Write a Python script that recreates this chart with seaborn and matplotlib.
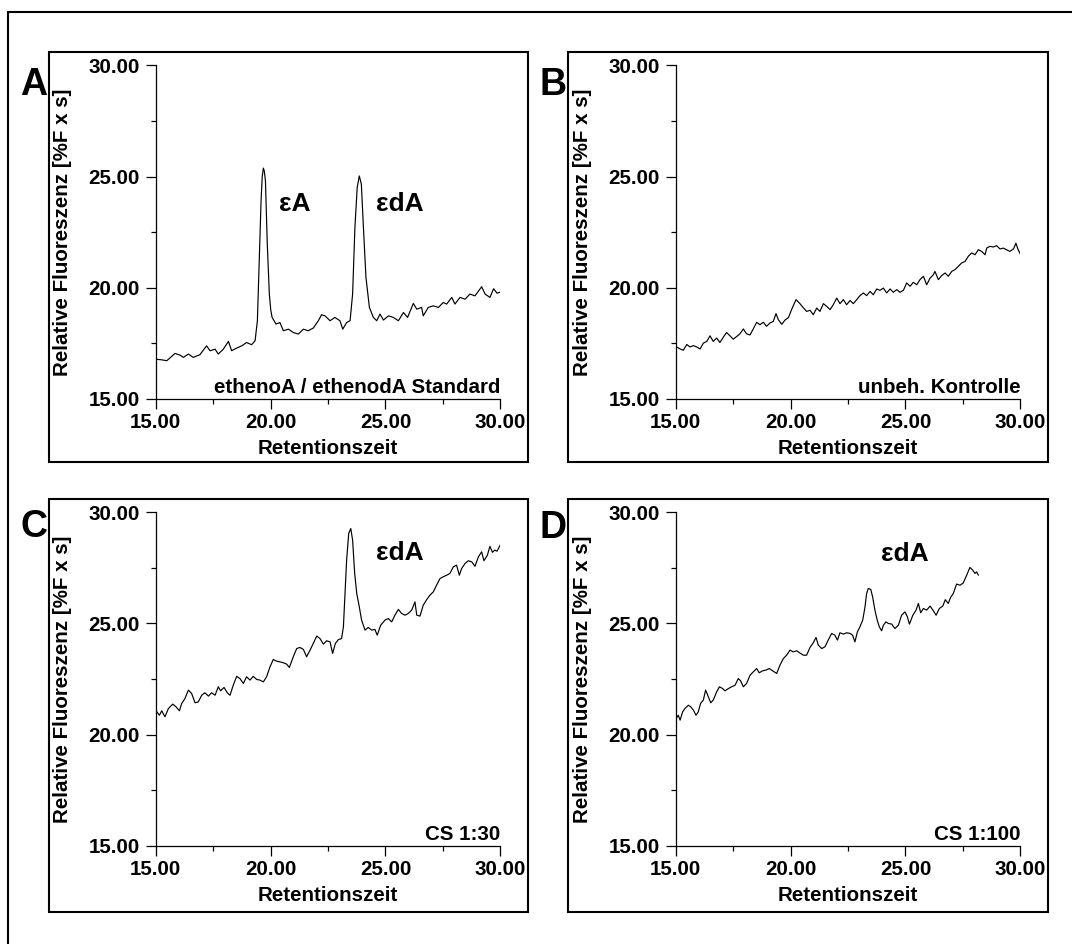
import numpy as np
import pandas as pd
import seaborn as sns
import matplotlib
matplotlib.use("Agg")
import matplotlib.pyplot as plt
from matplotlib.patches import Rectangle
from matplotlib.lines import Line2D
from matplotlib.ticker import FixedLocator, FormatStrFormatter

# ---------------- data (retention time [min], relative fluorescence) ----------------
a_time = [15.00, 15.27, 15.49, 15.85, 16.07, 16.21, 16.43, 16.64, 16.93, 17.22, 17.37, 17.59,
          17.73, 17.95, 18.17, 18.31, 18.53, 18.75, 18.96, 19.18, 19.33, 19.43, 19.51, 19.59,
          19.64, 19.69, 19.73, 19.78, 19.86, 19.95, 20.01, 20.07, 20.24, 20.41, 20.56, 20.78,
          20.99, 21.21, 21.43, 21.64, 21.86, 22.08, 22.22, 22.37, 22.59, 22.80, 23.02, 23.14,
          23.31, 23.46, 23.57, 23.67, 23.77, 23.86, 23.95, 24.04, 24.15, 24.30, 24.47, 24.62,
          24.76, 24.91, 25.13, 25.34, 25.56, 25.78, 25.96, 26.21, 26.36, 26.57, 26.64, 26.86,
          27.08, 27.30, 27.51, 27.66, 27.88, 28.02, 28.24, 28.46, 28.67, 28.89, 29.18, 29.33,
          29.54, 29.70, 29.85, 30.00]
a_signal = [16.78, 16.75, 16.71, 17.04, 16.96, 16.86, 17.01, 16.86, 16.98, 17.38, 17.16, 17.23,
            17.01, 17.23, 17.58, 17.16, 17.28, 17.38, 17.53, 17.43, 17.61, 18.51, 21.21, 23.91,
            25.00, 25.38, 25.25, 24.81, 21.96, 19.71, 19.00, 18.66, 18.36, 18.43, 18.06, 18.13,
            17.98, 17.91, 18.13, 18.06, 18.18, 18.51, 18.78, 18.73, 18.51, 18.66, 18.51, 18.13,
            18.43, 18.51, 19.71, 22.71, 24.51, 25.03, 24.66, 22.71, 20.46, 19.11, 18.66, 18.51,
            18.81, 18.54, 18.73, 18.66, 18.51, 18.88, 18.66, 19.29, 19.03, 19.11, 18.73, 19.11,
            19.18, 19.11, 19.33, 19.26, 19.56, 19.26, 19.56, 19.48, 19.71, 19.63, 20.04, 19.71,
            19.56, 19.95, 19.75, 19.80]

b_time = [15.00, 15.20, 15.34, 15.49, 15.63, 15.78, 15.92, 16.07, 16.21, 16.36, 16.50, 16.64,
          16.79, 16.93, 17.08, 17.22, 17.37, 17.51, 17.66, 17.80, 17.95, 18.09, 18.24, 18.38,
          18.53, 18.67, 18.82, 18.96, 19.11, 19.25, 19.37, 19.47, 19.62, 19.76, 19.91, 20.05,
          20.24, 20.41, 20.56, 20.70, 20.85, 20.99, 21.14, 21.28, 21.43, 21.57, 21.72, 21.86,
          22.01, 22.15, 22.30, 22.44, 22.59, 22.73, 22.88, 23.02, 23.17, 23.31, 23.46, 23.60,
          23.75, 23.89, 24.04, 24.18, 24.33, 24.47, 24.62, 24.76, 24.91, 25.05, 25.20, 25.34,
          25.49, 25.63, 25.78, 25.92, 26.07, 26.21, 26.28, 26.43, 26.57, 26.72, 26.86, 27.01,
          27.15, 27.30, 27.44, 27.59, 27.73, 27.88, 28.02, 28.17, 28.31, 28.46, 28.53, 28.67,
          28.82, 28.96, 29.11, 29.25, 29.40, 29.54, 29.70, 29.80, 29.90, 30.00]
b_signal = [17.36, 17.24, 17.18, 17.44, 17.33, 17.39, 17.33, 17.24, 17.50, 17.58, 17.83, 17.58,
            17.73, 17.53, 17.77, 17.98, 17.83, 17.68, 17.80, 17.92, 18.14, 17.92, 17.87, 18.14,
            18.44, 18.33, 18.44, 18.26, 18.41, 18.48, 18.83, 18.56, 18.35, 18.54, 18.65, 19.02,
            19.46, 19.28, 19.09, 18.93, 18.98, 18.78, 19.08, 18.93, 19.28, 19.16, 19.01, 19.23,
            19.53, 19.28, 19.46, 19.23, 19.42, 19.28, 19.46, 19.64, 19.76, 19.64, 19.83, 19.68,
            19.94, 19.88, 19.98, 19.76, 19.94, 19.79, 19.91, 19.79, 19.88, 20.21, 20.06, 20.24,
            20.13, 20.36, 20.51, 20.13, 20.43, 20.58, 20.73, 20.36, 20.54, 20.66, 20.51, 20.73,
            20.81, 20.96, 21.11, 21.18, 21.41, 21.56, 21.48, 21.71, 21.63, 21.48, 21.78, 21.86,
            21.83, 21.89, 21.74, 21.78, 21.70, 21.63, 21.75, 22.00, 21.70, 21.50]

c_time = [15.00, 15.17, 15.27, 15.41, 15.56, 15.75, 15.89, 16.04, 16.14, 16.28, 16.43, 16.57,
          16.72, 16.86, 17.01, 17.15, 17.30, 17.44, 17.59, 17.73, 17.83, 17.98, 18.12, 18.24,
          18.38, 18.53, 18.67, 18.82, 18.96, 19.11, 19.25, 19.40, 19.54, 19.69, 19.83, 19.98,
          20.12, 20.27, 20.41, 20.56, 20.70, 20.82, 20.99, 21.14, 21.28, 21.43, 21.57, 21.72,
          21.86, 22.01, 22.15, 22.30, 22.44, 22.59, 22.70, 22.82, 22.95, 23.09, 23.17, 23.24,
          23.31, 23.40, 23.49, 23.57, 23.66, 23.75, 23.86, 23.96, 24.11, 24.25, 24.40, 24.54,
          24.64, 24.79, 24.98, 25.12, 25.27, 25.41, 25.56, 25.70, 25.85, 25.99, 26.14, 26.28,
          26.36, 26.50, 26.64, 26.79, 26.93, 27.08, 27.22, 27.37, 27.51, 27.66, 27.80, 27.95,
          28.09, 28.21, 28.31, 28.46, 28.60, 28.75, 28.89, 29.04, 29.18, 29.28, 29.43, 29.54,
          29.65, 29.75, 29.85, 30.00]
c_signal = [21.10, 20.87, 21.07, 20.80, 21.17, 21.37, 21.25, 21.07, 21.40, 21.62, 22.00, 21.85,
            21.43, 21.47, 21.77, 21.88, 21.73, 21.88, 21.77, 22.15, 21.97, 22.12, 21.88, 21.77,
            22.22, 22.62, 22.52, 22.30, 22.60, 22.45, 22.62, 22.48, 22.45, 22.37, 22.60, 23.05,
            23.38, 23.30, 23.27, 23.23, 23.17, 23.02, 23.50, 23.87, 23.92, 23.83, 23.50, 23.80,
            24.10, 24.43, 24.32, 24.07, 24.22, 24.17, 23.65, 24.10, 24.27, 24.32, 24.85, 26.35,
            27.85, 29.05, 29.27, 28.75, 27.25, 26.35, 25.75, 25.15, 24.70, 24.82, 24.70, 24.73,
            24.47, 24.92, 25.15, 25.22, 25.07, 25.37, 25.63, 25.45, 25.37, 25.45, 25.60, 25.97,
            25.37, 25.33, 25.82, 26.07, 26.27, 26.42, 26.72, 27.02, 27.10, 27.17, 27.25, 27.55,
            27.62, 27.17, 27.47, 27.70, 27.82, 27.77, 27.57, 28.00, 28.22, 27.82, 28.07, 28.47,
            28.20, 28.30, 28.25, 28.55]

d_time = [15.00, 15.12, 15.20, 15.31, 15.41, 15.56, 15.66, 15.78, 15.89, 15.99, 16.09, 16.21,
          16.31, 16.43, 16.53, 16.64, 16.79, 16.91, 17.05, 17.15, 17.30, 17.44, 17.59, 17.73,
          17.83, 17.95, 18.09, 18.24, 18.38, 18.53, 18.64, 18.79, 18.93, 19.08, 19.22, 19.40,
          19.54, 19.69, 19.83, 19.98, 20.12, 20.27, 20.41, 20.56, 20.70, 20.85, 20.99, 21.11,
          21.21, 21.36, 21.50, 21.64, 21.79, 21.93, 22.04, 22.15, 22.30, 22.44, 22.59, 22.70,
          22.80, 22.91, 23.02, 23.14, 23.24, 23.31, 23.38, 23.49, 23.57, 23.67, 23.77, 23.86,
          23.96, 24.04, 24.15, 24.25, 24.40, 24.54, 24.69, 24.83, 24.98, 25.08, 25.17, 25.32,
          25.46, 25.56, 25.66, 25.78, 25.92, 26.07, 26.21, 26.33, 26.47, 26.62, 26.73, 26.86,
          26.96, 27.08, 27.22, 27.37, 27.51, 27.66, 27.80, 27.92, 28.02, 28.09, 28.17]
d_signal = [20.68, 20.87, 20.65, 21.02, 21.17, 21.32, 21.25, 21.10, 20.87, 21.02, 21.40, 21.55,
            22.00, 21.70, 21.43, 21.55, 21.92, 22.15, 22.07, 21.97, 22.07, 22.15, 22.22, 22.52,
            22.42, 22.15, 22.30, 22.67, 22.82, 22.97, 22.78, 22.87, 22.90, 22.97, 22.87, 22.75,
            23.12, 23.42, 23.57, 23.80, 23.72, 23.77, 23.67, 23.57, 23.57, 23.92, 24.13, 24.37,
            24.02, 23.87, 23.95, 24.25, 24.55, 24.47, 24.25, 24.58, 24.52, 24.58, 24.55, 24.47,
            24.17, 24.62, 24.85, 25.15, 25.75, 26.35, 26.57, 26.53, 26.20, 25.60, 25.15, 24.85,
            24.67, 24.92, 25.07, 25.00, 24.97, 24.77, 24.92, 25.37, 25.52, 25.30, 24.97, 25.37,
            25.60, 25.90, 25.48, 25.67, 25.60, 25.78, 25.57, 25.37, 25.67, 25.78, 26.07, 25.90,
            26.17, 26.35, 26.77, 26.72, 26.82, 27.17, 27.52, 27.40, 27.25, 27.32, 27.17]

panel_letters = ["A", "B", "C", "D"]
panel_notes = ["ethenoA / ethenodA Standard", "unbeh. Kontrolle", "CS 1:30", "CS 1:100"]
peak_labels = [[("εA", 20.38, 23.77), ("εdA", 24.59, 23.77)],
               [],
               [("εdA", 24.59, 28.18)],
               [("εdA", 23.93, 28.12)]]
axis_ticks = [15, 20, 25, 30]
minor_ticks = [17.5, 22.5, 27.5]
x_label = "Retentionszeit"
y_label = "Relative Fluoreszenz [%F x s]"

series = [(a_time, a_signal), (b_time, b_signal), (c_time, c_signal), (d_time, d_signal)]

# ---------------- style ----------------
sns.set_theme(style="white")
plt.rcParams["font.family"] = ["Liberation Sans", "DejaVu Sans"]
plt.rcParams["font.weight"] = "bold"
plt.rcParams["axes.labelweight"] = "bold"
plt.rcParams["text.color"] = "black"
plt.rcParams["axes.labelcolor"] = "black"
plt.rcParams["xtick.color"] = "black"
plt.rcParams["ytick.color"] = "black"

W, H = 1072, 944
fig = plt.figure(figsize=(W / 100, H / 100), dpi=100)
fig.patch.set_facecolor("white")

# axes rectangles in pixels: (left, top, right, bottom)
ax_px = [(155.5, 65.5, 500.5, 398.7), (675.5, 65.5, 1020.5, 398.7),
         (155.5, 512.3, 500.5, 845.7), (675.5, 512.3, 1020.5, 845.7)]
box_px = [(48.5, 52.5, 527.7, 462.0), (567.5, 52.5, 1047.5, 462.0),
          (48.5, 498.5, 527.7, 911.5), (567.5, 498.5, 1047.5, 911.5)]
letter_px = [(20.0, 95.0), (540.0, 95.0), (20.0, 537.0), (540.0, 538.0)]

FS = 14.8

# outer frame (only top and left edges visible)
fig.add_artist(Line2D([7.5 / W, 7.5 / W], [0, 1 - 11.7 / H], transform=fig.transFigure,
                      color="black", lw=1.5))
fig.add_artist(Line2D([7.5 / W, 1.0], [1 - 11.7 / H, 1 - 11.7 / H], transform=fig.transFigure,
                      color="black", lw=1.5))

for i, ((t, s), (l, tp, r, b)) in enumerate(zip(series, ax_px)):
    ax = fig.add_axes([l / W, 1 - b / H, (r - l) / W, (b - tp) / H])
    ax.set_facecolor("none")
    df = pd.DataFrame({"time": t, "signal": s})
    sns.lineplot(data=df, x="time", y="signal", ax=ax, color="black", linewidth=0.85,
                 estimator=None, sort=False)
    ax.set_xlim(15, 30)
    ax.set_ylim(15, 30)
    for sp in ["top", "right"]:
        ax.spines[sp].set_visible(False)
    for sp in ["left", "bottom"]:
        ax.spines[sp].set_linewidth(0.9)
        ax.spines[sp].set_color("black")
    ax.xaxis.set_major_locator(FixedLocator(axis_ticks))
    ax.yaxis.set_major_locator(FixedLocator(axis_ticks))
    ax.xaxis.set_minor_locator(FixedLocator(minor_ticks))
    ax.yaxis.set_minor_locator(FixedLocator(minor_ticks))
    ax.xaxis.set_major_formatter(FormatStrFormatter("%.2f"))
    ax.yaxis.set_major_formatter(FormatStrFormatter("%.2f"))
    ax.tick_params(axis="both", which="major", direction="out", length=7, width=0.9,
                   labelsize=FS, color="black", labelcolor="black")
    ax.tick_params(axis="both", which="minor", direction="out", length=3.5, width=0.9,
                   color="black")
    ax.tick_params(axis="x", which="major", pad=3.5)
    ax.tick_params(axis="y", which="major", pad=4.5)
    ax.tick_params(bottom=True, left=True, which="both")
    for lab in ax.get_xticklabels() + ax.get_yticklabels():
        lab.set_fontweight("bold")
    ax.set_xlabel(x_label, fontsize=FS, fontweight="bold", va="baseline", color="black")
    ax.xaxis.set_label_coords(0.5, -0.166)
    ax.set_ylabel(y_label, fontsize=FS, fontweight="bold", va="center", color="black")
    ax.yaxis.set_label_coords(-0.271, 0.5)
    ax.text(30, 15.24, panel_notes[i], ha="right", va="baseline", fontsize=FS,
            fontweight="bold", color="black")
    for txt, xx, yy in peak_labels[i]:
        ax.text(xx, yy, txt, ha="left", va="center", fontsize=19, fontweight="bold",
                color="black")

    x0, y0, x1, y1 = box_px[i]
    fig.add_artist(Rectangle((x0 / W, 1 - y1 / H), (x1 - x0) / W, (y1 - y0) / H,
                             transform=fig.transFigure, fill=False, ec="black", lw=1.5))
    lx, ly = letter_px[i]
    fig.text(lx / W, 1 - ly / H, panel_letters[i], ha="left", va="baseline", fontsize=27,
             fontweight="bold", color="black")

fig.savefig("out.png", dpi=100, facecolor="white")
